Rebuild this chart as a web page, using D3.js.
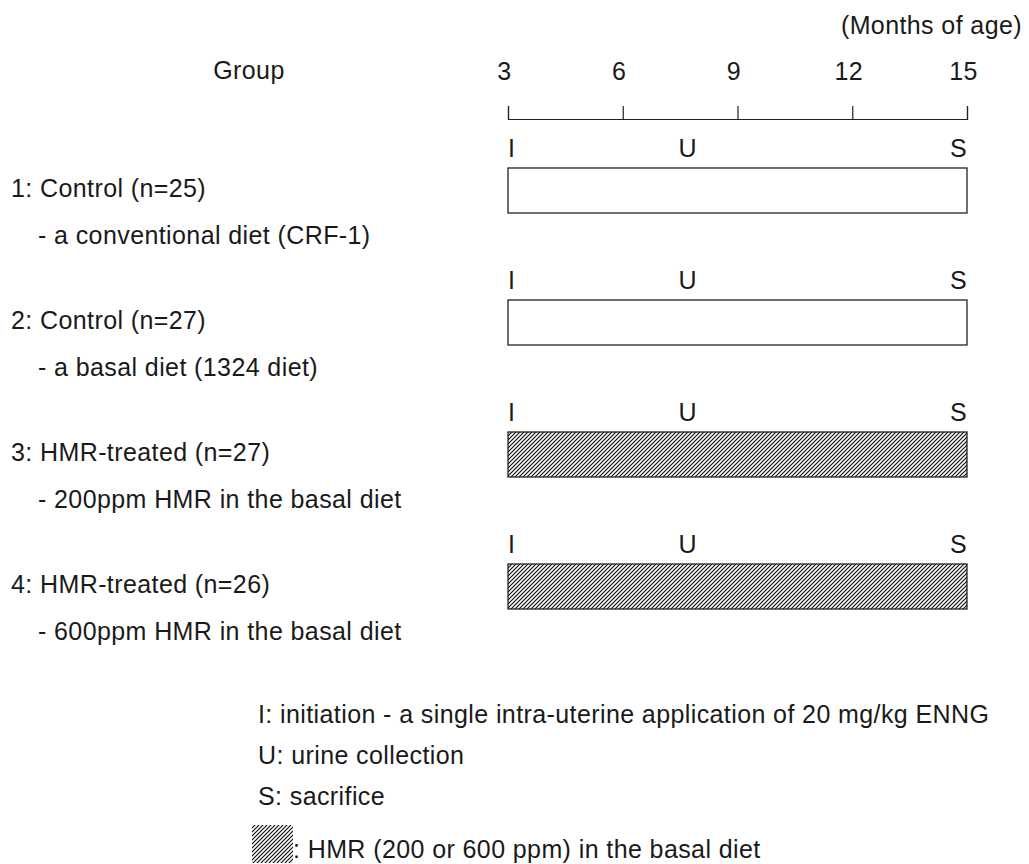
<!DOCTYPE html>
<html>
<head>
<meta charset="utf-8">
<script src="https://cdn.jsdelivr.net/npm/d3@7"></script>
<style>
  html, body { margin: 0; padding: 0; background: #fff; }
  svg { display: block; }
  text { font-family: "Liberation Sans", Arial, Helvetica, sans-serif; fill: #1a1a1a; letter-spacing: 0.4px; }
</style>
</head>
<body>
<svg id="chart" width="1029" height="864"></svg>
<script>
// ---- data ----
const groupLabels = ["1: Control (n=25)", "2: Control (n=27)", "3: HMR-treated (n=27)", "4: HMR-treated (n=26)"];
const dietLabels = ["- a conventional diet (CRF-1)", "- a basal diet (1324 diet)", "- 200ppm HMR in the basal diet", "- 600ppm HMR in the basal diet"];
const hmrTreated = [false, false, true, true];
const startMonths = [3, 3, 3, 3];
const endMonths = [15, 15, 15, 15];
const eventLabels = ["I", "U", "S"];
const eventMonths = [3, 7.7, 15];
const tickValues = [3, 6, 9, 12, 15];
const legendLines = [
  "I: initiation - a single intra-uterine application of 20 mg/kg ENNG",
  "U: urine collection",
  "S: sacrifice"
];
const hatchLegend = ": HMR (200 or 600 ppm) in the basal diet";
const axisTitle = "(Months of age)";
const groupTitle = "Group";

// ---- drawing ----
const svg = d3.select("#chart");
const FS = 25;

const defs = svg.append("defs");
const pat = defs.append("pattern")
  .attr("id", "hatch").attr("patternUnits", "userSpaceOnUse")
  .attr("width", 4).attr("height", 4);
pat.append("rect").attr("width", 4).attr("height", 4).attr("fill", "#fff");
pat.append("path").attr("d", "M-1,1 l2,-2 M0,4 l4,-4 M3,5 l2,-2")
  .attr("stroke", "#111").attr("stroke-width", 1.2);

const x = d3.scaleLinear().domain([3, 15]).range([508, 967]);
const y = d3.scalePoint().domain(d3.range(groupLabels.length)).range([168, 564]);
const barH = 45;

// axis
const axisG = svg.append("g").attr("transform", "translate(0,119)")
  .call(d3.axisTop(x).tickValues(tickValues).tickSize(13).tickSizeOuter(13).tickPadding(26));
axisG.selectAll("path, line").attr("stroke", "#222").attr("stroke-width", 1.2);
axisG.selectAll("text").attr("font-size", FS).attr("font-family", '"Liberation Sans", Arial, sans-serif')
  .attr("fill", "#1a1a1a").attr("dx", -4);

svg.append("text").attr("x", 1022).attr("y", 34).attr("text-anchor", "end")
  .attr("font-size", FS).text(axisTitle);
svg.append("text").attr("x", 249).attr("y", 79).attr("text-anchor", "middle")
  .attr("font-size", FS).text(groupTitle);

// groups
const g = svg.selectAll("g.grp").data(groupLabels).join("g").attr("class", "grp");

g.append("rect")
  .attr("x", (d, i) => x(startMonths[i]))
  .attr("y", (d, i) => y(i))
  .attr("width", (d, i) => x(endMonths[i]) - x(startMonths[i]))
  .attr("height", barH)
  .attr("fill", (d, i) => hmrTreated[i] ? "url(#hatch)" : "#fff")
  .attr("stroke", "#222").attr("stroke-width", 1.3);

g.each(function(d, i) {
  const sel = d3.select(this);
  eventLabels.forEach((lab, j) => {
    sel.append("text")
      .attr("x", x(eventMonths[j]))
      .attr("y", y(i) - 11)
      .attr("text-anchor", j === 0 ? "start" : (j === eventLabels.length - 1 ? "end" : "middle"))
      .attr("font-size", FS)
      .text(lab);
  });
  sel.append("text").attr("x", 11).attr("y", y(i) + 28.5)
    .attr("font-size", FS).text(groupLabels[i]);
  sel.append("text").attr("x", 38).attr("y", y(i) + 76)
    .attr("font-size", FS).text(dietLabels[i]);
});

// legend
const legX = 258;
const legBaselines = [723, 764, 805];
legendLines.forEach((t, i) => {
  svg.append("text").attr("x", legX).attr("y", legBaselines[i])
    .attr("font-size", FS).text(t);
});
const lastY = 858;
svg.append("rect").attr("x", 252).attr("y", 825).attr("width", 41).attr("height", 38)
  .attr("fill", "url(#hatch)").attr("stroke", "none");
svg.append("text").attr("x", 293).attr("y", lastY).attr("font-size", FS).text(hatchLegend);
</script>
</body>
</html>
